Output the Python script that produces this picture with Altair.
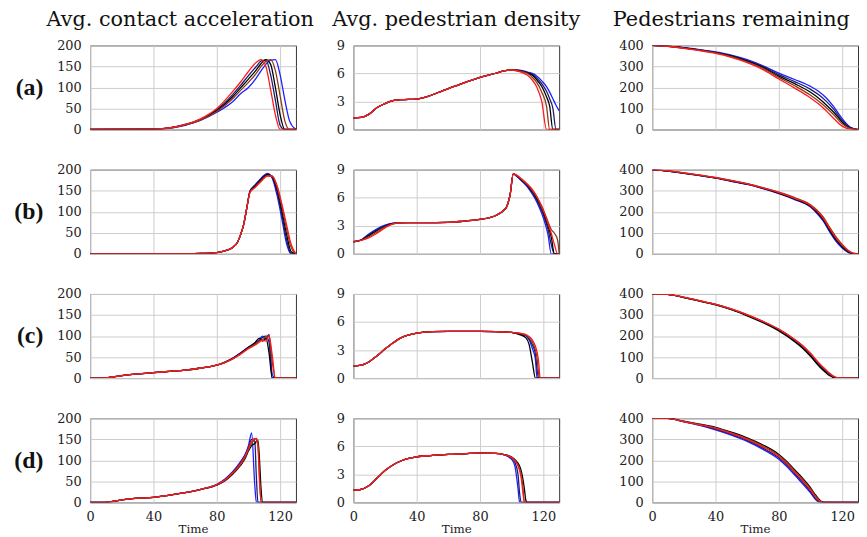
import altair as alt
import pandas as pd

RUNS = ["blue", "navy", "black", "brown", "red"]
RUN_COLORS = ["#1f1fff", "#1c1c70", "#000000", "#8a3b1e", "#ff1a1a"]

ROW_LABELS = ["(a)", "(b)", "(c)", "(d)"]
COL_TITLES = ["Avg. contact acceleration", "Avg. pedestrian density", "Pedestrians remaining"]
X_TICKS = [0, 40, 80, 120]
Y_TICKS = [[0, 50, 100, 150, 200], [0, 3, 6, 9], [0, 100, 200, 300, 400]]
Y_MAX = [200, 9, 400]

# ---------------- row (a) ----------------
T_A1 = [0, 40, 50, 60, 70, 80, 90, 95, 100, 105, 108, 111, 114, 117, 120, 123, 126, 130]
A1 = [
    [0, 1, 3, 10, 22, 41, 66, 85, 100, 123, 140, 155, 165, 166, 130, 70, 20, 0],
    [0, 1, 4, 12, 25, 47, 83, 105, 128, 150, 163, 165, 130, 70, 10, 0, 0, 0],
    [0, 1, 4, 11, 24, 45, 78, 99, 120, 142, 157, 166, 155, 100, 35, 0, 0, 0],
    [0, 1, 3, 11, 23, 43, 73, 93, 112, 134, 150, 162, 166, 140, 80, 20, 0, 0],
    [0, 1, 4, 12, 26, 50, 90, 113, 138, 160, 166, 150, 95, 35, 0, 0, 0, 0],
]
T_A2 = [0, 5, 10, 15, 20, 25, 30, 40, 60, 80, 90, 95, 100, 105, 110, 113, 116, 119, 122, 124, 126, 128, 130]
A2 = [
    [1.25, 1.3, 1.65, 2.35, 2.77, 3.1, 3.19, 3.26, 4.38, 5.57, 6.02, 6.27, 6.37, 6.35, 6.15, 6.0, 5.7, 5.2, 4.6, 4.0, 3.3, 2.6, 2.0],
    [1.25, 1.3, 1.65, 2.35, 2.77, 3.1, 3.19, 3.26, 4.38, 5.57, 6.02, 6.27, 6.37, 6.3, 6.1, 5.9, 5.5, 4.9, 4.1, 3.3, 2.3, 0, 0],
    [1.25, 1.3, 1.65, 2.35, 2.77, 3.1, 3.19, 3.26, 4.38, 5.57, 6.02, 6.27, 6.37, 6.3, 6.05, 5.8, 5.3, 4.6, 3.5, 2.5, 0, 0, 0],
    [1.25, 1.3, 1.65, 2.35, 2.77, 3.1, 3.19, 3.26, 4.38, 5.57, 6.02, 6.27, 6.37, 6.25, 6.0, 5.6, 5.0, 4.0, 2.5, 0, 0, 0, 0],
    [1.25, 1.3, 1.65, 2.35, 2.77, 3.1, 3.19, 3.26, 4.38, 5.57, 6.02, 6.27, 6.37, 6.2, 5.8, 5.3, 4.5, 3.0, 0, 0, 0, 0, 0],
]
T_A3 = [0, 10, 20, 30, 40, 50, 60, 70, 80, 90, 100, 105, 110, 115, 120, 125, 130]
A3 = [
    [400, 397, 389, 380, 369, 354, 332, 303, 268, 238, 205, 182, 150, 105, 52, 12, 0],
    [400, 397, 388, 379, 367, 351, 328, 299, 261, 228, 191, 166, 134, 93, 43, 9, 0],
    [400, 396, 388, 378, 366, 349, 325, 295, 254, 218, 177, 150, 117, 80, 35, 7, 0],
    [400, 396, 387, 377, 365, 347, 322, 291, 248, 208, 163, 136, 104, 68, 27, 5, 0],
    [400, 396, 386, 375, 362, 343, 318, 285, 240, 197, 150, 122, 88, 50, 16, 2, 0],
]

# ---------------- row (b) ----------------
T_B1 = [0, 60, 70, 80, 85, 90, 93, 95, 97, 99, 101, 104, 108, 112, 115, 118, 121, 124, 127, 130]
B1 = [
    [0, 0.5, 1, 3, 7, 15, 27, 45, 70, 110, 150, 163, 180, 191, 180, 140, 85, 25, 0, 0],
    [0, 0.5, 1, 3, 7, 15, 27, 45, 70, 110, 149, 162, 178, 189, 182, 148, 95, 35, 0, 0],
    [0, 0.5, 1, 3, 7, 15, 27, 45, 70, 110, 148, 160, 176, 188, 184, 155, 105, 48, 5, 0],
    [0, 0.5, 1, 3, 7, 15, 27, 45, 70, 110, 147, 158, 174, 186, 185, 160, 115, 60, 15, 0],
    [0, 0.5, 1, 3, 7, 15, 27, 45, 70, 110, 146, 157, 172, 185, 184, 163, 120, 70, 22, 0],
]
T_B2 = [0, 5, 10, 15, 20, 25, 30, 40, 50, 60, 70, 80, 90, 95, 97, 99, 101, 103, 106, 110, 113, 116, 119, 121, 123, 125, 127, 129, 130]
B2 = [
    [1.29, 1.5, 2.15, 2.68, 3.06, 3.27, 3.33, 3.33, 3.34, 3.36, 3.5, 3.68, 4.1, 4.66, 5.1, 6.3, 8.55, 8.3, 7.85, 7.15, 6.4, 5.5, 4.3, 3.3, 2.0, 0, 0, 0, 0],
    [1.29, 1.48, 2.05, 2.6, 3.0, 3.25, 3.33, 3.33, 3.34, 3.36, 3.5, 3.68, 4.1, 4.66, 5.1, 6.3, 8.55, 8.35, 7.9, 7.25, 6.55, 5.7, 4.6, 3.7, 2.6, 1.0, 0, 0, 0],
    [1.29, 1.46, 1.95, 2.5, 2.92, 3.22, 3.32, 3.33, 3.34, 3.36, 3.5, 3.68, 4.1, 4.66, 5.1, 6.3, 8.55, 8.4, 7.95, 7.35, 6.7, 5.9, 4.9, 4.0, 3.0, 1.8, 0, 0, 0],
    [1.29, 1.45, 1.85, 2.35, 2.85, 3.2, 3.32, 3.33, 3.34, 3.36, 3.5, 3.68, 4.1, 4.66, 5.1, 6.3, 8.55, 8.4, 8.0, 7.4, 6.8, 6.05, 5.1, 4.3, 3.4, 2.6, 2.2, 1.5, 0],
    [1.29, 1.45, 1.74, 2.2, 2.78, 3.2, 3.32, 3.33, 3.34, 3.36, 3.5, 3.68, 4.1, 4.66, 5.1, 6.3, 8.55, 8.45, 8.05, 7.45, 6.9, 6.1, 5.0, 4.2, 3.2, 2.2, 1.0, 0, 0],
]
T_B3 = [0, 10, 20, 30, 40, 50, 60, 70, 80, 90, 100, 104, 108, 112, 116, 120, 124, 127, 130]
B3 = [
    [400, 393, 383, 372, 360, 345, 330, 310, 286, 258, 222, 193, 156, 105, 60, 27, 6, 0, 0],
    [400, 393, 384, 373, 361, 346, 331, 311, 288, 260, 225, 197, 161, 110, 65, 31, 8, 1, 0],
    [400, 393, 384, 373, 361, 347, 332, 312, 289, 262, 227, 200, 165, 115, 70, 35, 10, 1, 0],
    [400, 394, 385, 374, 363, 349, 334, 315, 293, 267, 233, 208, 175, 127, 82, 45, 16, 3, 0],
    [400, 394, 385, 374, 362, 348, 333, 313, 291, 264, 230, 204, 170, 121, 76, 40, 13, 2, 0],
]

# ---------------- row (c) ----------------
T_C1 = [0, 8, 20, 30, 40, 50, 60, 70, 80, 85, 90, 95, 100, 104, 107, 109, 111, 113, 115, 117, 119, 130]
C1 = [
    [0, 0, 6, 10, 13, 16, 19, 24, 31, 37, 47, 60, 74, 82, 92, 100, 92, 104, 10, 0, 0, 0],
    [0, 0, 6, 10, 13, 16, 19, 24, 31, 37, 46, 58, 72, 80, 90, 97, 100, 85, 0, 0, 0, 0],
    [0, 0, 6, 10, 13, 16, 19, 24, 31, 38, 47, 59, 73, 84, 95, 88, 95, 60, 0, 0, 0, 0],
    [0, 0, 6, 10, 13, 16, 19, 24, 31, 37, 46, 57, 71, 80, 88, 92, 98, 102, 40, 0, 0, 0],
    [0, 0, 6, 10, 13, 16, 19, 24, 31, 37, 45, 57, 70, 78, 86, 90, 88, 100, 55, 0, 0, 0],
]
T_C2 = [0, 5, 10, 15, 20, 25, 30, 35, 40, 50, 60, 70, 80, 90, 95, 100, 105, 109, 111, 113, 115, 116, 117, 118, 119, 130]
C2 = [
    [1.3, 1.38, 1.75, 2.4, 3.1, 3.75, 4.3, 4.62, 4.82, 4.98, 5.0, 5.0, 5.0, 4.98, 4.95, 4.88, 4.72, 4.5, 4.1, 3.2, 2.0, 0, 0, 0, 0, 0],
    [1.3, 1.38, 1.75, 2.4, 3.1, 3.75, 4.3, 4.62, 4.82, 4.98, 5.0, 5.0, 5.0, 4.98, 4.95, 4.88, 4.75, 4.55, 4.2, 3.6, 2.6, 1.0, 0, 0, 0, 0],
    [1.3, 1.38, 1.75, 2.4, 3.1, 3.75, 4.3, 4.62, 4.82, 4.98, 5.0, 5.0, 5.0, 4.98, 4.95, 4.88, 4.65, 4.3, 3.6, 1.8, 0, 0, 0, 0, 0, 0],
    [1.3, 1.38, 1.75, 2.4, 3.1, 3.75, 4.3, 4.62, 4.82, 4.98, 5.0, 5.0, 5.0, 4.98, 4.95, 4.88, 4.78, 4.6, 4.35, 3.9, 3.0, 2.2, 0.5, 0, 0, 0],
    [1.3, 1.38, 1.75, 2.4, 3.1, 3.75, 4.3, 4.62, 4.82, 4.98, 5.0, 5.0, 5.0, 4.98, 4.95, 4.88, 4.8, 4.65, 4.45, 4.1, 3.4, 2.8, 1.8, 0, 0, 0],
]
T_C3 = [0, 8, 20, 30, 40, 50, 60, 70, 80, 90, 95, 100, 105, 108, 110, 112, 114, 116, 118, 130]
C3 = [
    [400, 399, 384, 367, 350, 328, 300, 268, 230, 180, 150, 112, 68, 45, 31, 18, 8, 2, 0, 0],
    [400, 399, 384, 367, 350, 327, 299, 267, 228, 178, 148, 110, 66, 43, 29, 17, 7, 2, 0, 0],
    [400, 399, 383, 366, 348, 325, 296, 263, 224, 173, 142, 104, 60, 37, 24, 12, 4, 0, 0, 0],
    [400, 399, 384, 367, 350, 328, 301, 269, 232, 183, 153, 116, 72, 49, 35, 21, 10, 3, 0, 0],
    [400, 399, 385, 368, 351, 329, 302, 270, 233, 184, 155, 118, 75, 52, 38, 24, 12, 4, 1, 0],
]

# ---------------- row (d) ----------------
T_D1 = [0, 10, 20, 30, 40, 50, 60, 70, 80, 85, 90, 95, 98, 100, 102, 104, 105, 106, 107, 108, 109, 110, 130]
D1 = [
    [0, 0, 6, 10, 12, 17, 23, 31, 43, 55, 73, 97, 115, 135, 165, 40, 0, 0, 0, 0, 0, 0, 0],
    [0, 0, 6, 10, 12, 17, 23, 31, 42, 54, 71, 94, 113, 130, 150, 145, 60, 0, 0, 0, 0, 0, 0],
    [0, 0, 6, 10, 12, 17, 23, 31, 41, 51, 67, 88, 105, 122, 135, 140, 145, 148, 100, 30, 0, 0, 0],
    [0, 0, 6, 10, 12, 17, 23, 31, 42, 52, 69, 90, 108, 125, 140, 150, 152, 140, 60, 0, 0, 0, 0],
    [0, 0, 6, 10, 12, 17, 23, 31, 42, 53, 70, 92, 111, 128, 145, 152, 150, 130, 50, 0, 0, 0, 0],
]
T_D2 = [0, 4, 10, 15, 20, 25, 30, 35, 40, 50, 60, 70, 80, 90, 95, 98, 100, 102, 104, 105, 106, 107, 108, 109, 110, 130]
D2 = [
    [1.3, 1.35, 1.8, 2.6, 3.4, 4.0, 4.43, 4.7, 4.88, 5.02, 5.13, 5.2, 5.28, 5.25, 5.12, 4.85, 4.6, 3.9, 1.5, 0, 0, 0, 0, 0, 0, 0],
    [1.3, 1.35, 1.8, 2.6, 3.4, 4.0, 4.43, 4.7, 4.88, 5.02, 5.13, 5.2, 5.28, 5.25, 5.12, 4.95, 4.75, 4.3, 3.0, 1.0, 0, 0, 0, 0, 0, 0],
    [1.3, 1.35, 1.8, 2.6, 3.4, 4.0, 4.43, 4.7, 4.88, 5.02, 5.13, 5.2, 5.28, 5.25, 5.12, 5.0, 4.85, 4.6, 4.2, 3.9, 3.4, 2.6, 1.5, 0.2, 0, 0],
    [1.3, 1.35, 1.8, 2.6, 3.4, 4.0, 4.43, 4.7, 4.88, 5.02, 5.13, 5.2, 5.28, 5.25, 5.12, 4.98, 4.8, 4.5, 4.0, 3.6, 3.0, 1.8, 0, 0, 0, 0],
    [1.3, 1.35, 1.8, 2.6, 3.4, 4.0, 4.43, 4.7, 4.88, 5.02, 5.13, 5.2, 5.28, 5.25, 5.12, 4.97, 4.8, 4.45, 3.9, 3.4, 2.6, 1.2, 0, 0, 0, 0],
]
T_D3 = [0, 10, 20, 30, 40, 50, 60, 70, 80, 85, 90, 95, 100, 103, 105, 107, 109, 130]
D3 = [
    [400, 399, 383, 366, 345, 320, 290, 252, 205, 170, 130, 88, 45, 15, 3, 0, 0, 0],
    [400, 399, 384, 368, 348, 324, 295, 258, 212, 178, 138, 96, 52, 20, 6, 0, 0, 0],
    [400, 400, 386, 372, 357, 334, 307, 273, 228, 195, 155, 115, 70, 37, 18, 4, 0, 0],
    [400, 399, 385, 370, 354, 331, 303, 268, 223, 190, 150, 109, 65, 32, 14, 2, 0, 0],
    [400, 399, 384, 369, 352, 328, 300, 264, 218, 185, 145, 104, 60, 27, 10, 1, 0, 0],
]

PANELS = [
    [(T_A1, A1), (T_A2, A2), (T_A3, A3)],
    [(T_B1, B1), (T_B2, B2), (T_B3, B3)],
    [(T_C1, C1), (T_C2, C2), (T_C3, C3)],
    [(T_D1, D1), (T_D2, D2), (T_D3, D3)],
]

SERIF = "Liberation Serif"
TICK_FONT = "DejaVu Serif"
TITLE_FONT = "DejaVu Serif"
TITLE_DX = [-13, 0, -24]
PANEL_W, PANEL_H = 208, 85
GAPS = [58, 94]
ROW_GAP = 40.6


def make_df(times, runs):
    recs = []
    for name, vals in zip(RUNS, runs):
        for t, v in zip(times, vals):
            recs.append({"t": t, "v": v, "run": name})
    return pd.DataFrame(recs)


def panel(row, col):
    times, runs = PANELS[row][col]
    df = make_df(times, runs)
    bottom = row == 3
    x_kw = dict(values=X_TICKS, grid=True, labels=bottom, ticks=False, domain=False,
                labelPadding=8, labelFlush=False)
    if bottom:
        x_kw.update(title="Time", titleFont=TICK_FONT, titleFontSize=12,
                    titleFontWeight="normal", titlePadding=0, titleColor="#222222")
    else:
        x_kw["title"] = None
    y_kw = dict(values=Y_TICKS[col], grid=True, ticks=False, domain=False, labelPadding=9)
    if col == 0:
        y_kw.update(title=ROW_LABELS[row], titleAngle=0, titleAlign="right",
                    titleBaseline="middle", titleFont=SERIF, titleFontSize=24,
                    titleFontWeight="bold", titlePadding=14, titleColor="#111111")
    else:
        y_kw["title"] = None
    ch = alt.Chart(df).mark_line(strokeWidth=1.3, interpolate="monotone", clip=True).encode(
        x=alt.X("t:Q", scale=alt.Scale(domain=[0, 130], nice=False, zero=False), axis=alt.Axis(**x_kw)),
        y=alt.Y("v:Q", scale=alt.Scale(domain=[0, Y_MAX[col]], nice=False), axis=alt.Axis(**y_kw)),
        color=alt.Color("run:N", scale=alt.Scale(domain=RUNS, range=RUN_COLORS), legend=None),
    ).properties(width=PANEL_W, height=PANEL_H)
    if row == 0:
        ch = ch.properties(title=alt.TitleParams(
            COL_TITLES[col], font=TITLE_FONT, fontSize=21, fontWeight="normal",
            anchor="middle", dx=TITLE_DX[col], offset=10, color="#111111"))
    return ch


def spacer(w):
    return alt.Chart(pd.DataFrame({"z": [0]})).mark_point(opacity=0).encode(
        x=alt.value(0), y=alt.value(0)
    ).properties(width=w, height=PANEL_H, view=alt.ViewBackground(stroke="transparent"))


cells = []
for r in range(4):
    cells.append(panel(r, 0))
    cells.append(spacer(GAPS[0]))
    cells.append(panel(r, 1))
    cells.append(spacer(GAPS[1]))
    cells.append(panel(r, 2))

chart = alt.concat(*cells, columns=5, spacing={"row": ROW_GAP, "column": 0}, bounds="flush").properties(
    padding={"left": 5, "top": -3, "right": 0, "bottom": 0}
).configure_view(
    stroke="#333333", strokeWidth=1
).configure_axis(
    gridColor="#cccccc", gridWidth=1, labelFont=TICK_FONT, labelFontSize=13, labelColor="#222222"
)

chart.save("out.html", embed_options={"renderer": "svg", "actions": False})
